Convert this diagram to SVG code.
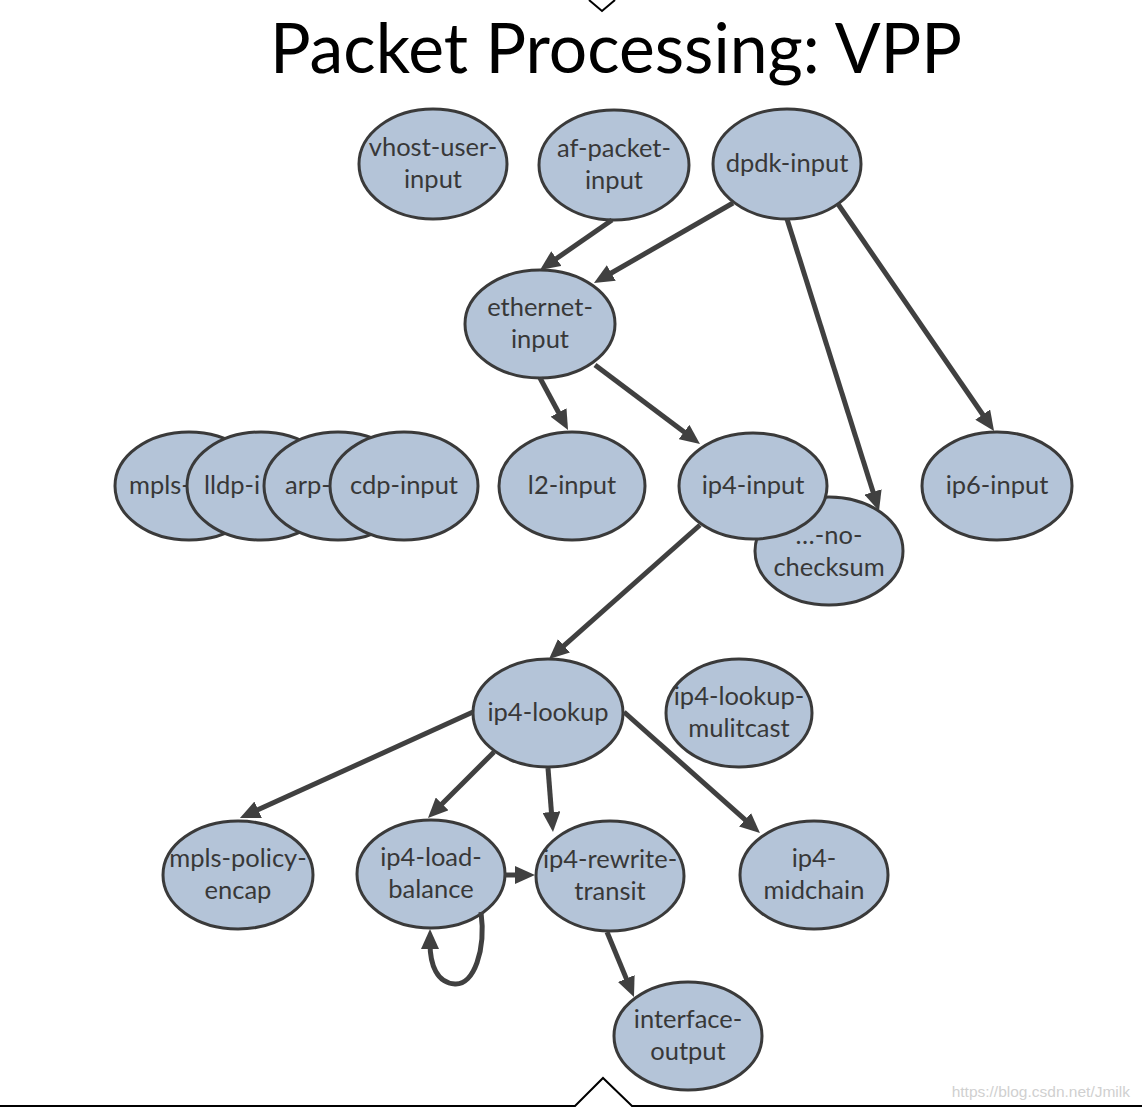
<svg xmlns="http://www.w3.org/2000/svg" width="1142" height="1108" viewBox="0 0 1142 1108">
<style>
.n ellipse{fill:#b4c4d8;stroke:#3a3a3a;stroke-width:3}
.n text{font-family:Lato,"Open Sans",sans-serif;font-size:25.5px;fill:#383838;text-anchor:middle}
.n text.s{text-anchor:start}
#edges path{fill:none;stroke:#404040;stroke-width:5}
</style>
<defs>
<marker id="ah" markerUnits="userSpaceOnUse" markerWidth="20" markerHeight="18" refX="6" refY="9" orient="auto" viewBox="0 0 20 18">
<path d="M0,0 L20,9 L0,18 z" fill="#404040"/>
</marker>
</defs>
<rect width="1142" height="1108" fill="#fff"/>
<g id="frame" fill="none" stroke="#000" stroke-width="2">
<polyline points="589,0 602,11 615,0"/>
<polyline points="0,1106 575,1106 603,1078 632,1106 1142,1106"/>
</g>
<text x="616" y="73" font-family="Lato,'Open Sans',sans-serif" font-size="70" fill="#000" text-anchor="middle" textLength="692" lengthAdjust="spacingAndGlyphs">Packet Processing: VPP</text>

<g id="vhost-user-input" class="n"><ellipse cx="433" cy="164" rx="74" ry="55"/><text x="433" y="156">vhost-user-</text><text x="433" y="188">input</text></g>
<g id="af-packet-input" class="n"><ellipse cx="614" cy="165" rx="75" ry="55"/><text x="614" y="157">af-packet-</text><text x="614" y="189">input</text></g>
<g id="dpdk-input" class="n"><ellipse cx="787" cy="164" rx="74" ry="55"/><text x="787" y="172">dpdk-input</text></g>
<g id="ethernet-input" class="n"><ellipse cx="540" cy="324" rx="75" ry="54"/><text x="540" y="316">ethernet-</text><text x="540" y="348">input</text></g>
<g id="mpls-input" class="n"><ellipse cx="189" cy="486" rx="74" ry="54"/><text class="s" x="129" y="494">mpls-</text></g>
<g id="lldp-input" class="n"><ellipse cx="261" cy="486" rx="74" ry="54"/><text class="s" x="204" y="494">lldp-i</text></g>
<g id="arp-input" class="n"><ellipse cx="338" cy="486" rx="74" ry="54"/><text class="s" x="285" y="494">arp-</text></g>
<g id="cdp-input" class="n"><ellipse cx="404" cy="486" rx="74" ry="54"/><text x="404" y="494">cdp-input</text></g>
<g id="l2-input" class="n"><ellipse cx="572" cy="486" rx="73" ry="54"/><text x="572" y="494">l2-input</text></g>
<g id="no-checksum" class="n"><ellipse cx="829" cy="551" rx="74" ry="54"/><text x="829" y="544">…-no-</text><text x="829" y="576">checksum</text></g>
<g id="ip4-input" class="n"><ellipse cx="753" cy="486" rx="74" ry="53"/><text x="753" y="494">ip4-input</text></g>
<g id="ip6-input" class="n"><ellipse cx="997" cy="486" rx="75" ry="54"/><text x="997" y="494">ip6-input</text></g>
<g id="ip4-lookup" class="n"><ellipse cx="548" cy="713" rx="75" ry="54"/><text x="548" y="721">ip4-lookup</text></g>
<g id="ip4-lookup-mulitcast" class="n"><ellipse cx="739" cy="713" rx="73" ry="54"/><text x="739" y="705">ip4-lookup-</text><text x="739" y="737">mulitcast</text></g>
<g id="mpls-policy-encap" class="n"><ellipse cx="238" cy="875" rx="75" ry="54"/><text x="238" y="867">mpls-policy-</text><text x="238" y="899">encap</text></g>
<g id="ip4-load-balance" class="n"><ellipse cx="431" cy="874" rx="74" ry="54"/><text x="431" y="866">ip4-load-</text><text x="431" y="898">balance</text></g>
<g id="ip4-rewrite-transit" class="n"><ellipse cx="610" cy="876" rx="74" ry="55"/><text x="610" y="868">ip4-rewrite-</text><text x="610" y="900">transit</text></g>
<g id="ip4-midchain" class="n"><ellipse cx="814" cy="875" rx="74" ry="54"/><text x="814" y="867">ip4-</text><text x="814" y="899">midchain</text></g>
<g id="interface-output" class="n"><ellipse cx="688" cy="1036" rx="74" ry="54"/><text x="688" y="1028">interface-</text><text x="688" y="1060">output</text></g>

<g id="edges">
<path d="M612,220 L551.5,262" marker-end="url(#ah)"/>
<path d="M733,203 L606.1,276" marker-end="url(#ah)"/>
<path d="M787,219 L874.8,497.6" marker-end="url(#ah)"/>
<path d="M838,204 L986.1,419.5" marker-end="url(#ah)"/>
<path d="M540,378 L561.4,417.7" marker-end="url(#ah)"/>
<path d="M595,365 L688.8,435.6" marker-end="url(#ah)"/>
<path d="M700,525 L559.5,649.7" marker-end="url(#ah)"/>
<path d="M473,712 L252.7,812.2" marker-end="url(#ah)"/>
<path d="M494,752 L437.9,808.1" marker-end="url(#ah)"/>
<path d="M548,768 L551.9,818" marker-end="url(#ah)"/>
<path d="M624,712 L749.5,823.7" marker-end="url(#ah)"/>
<path d="M504,875 L521,875" marker-end="url(#ah)"/>
<path d="M481,912 C486,950 474,985 455,984 C437,983 430,965 430,943" marker-end="url(#ah)"/>
<path d="M607,932 L628.6,984.1" marker-end="url(#ah)"/>
</g>
<text x="1130" y="1097" font-family="'Liberation Sans',Arial,sans-serif" font-size="15.5" fill="#d0d0d0" text-anchor="end">https://blog.csdn.net/Jmilk</text>
</svg>
